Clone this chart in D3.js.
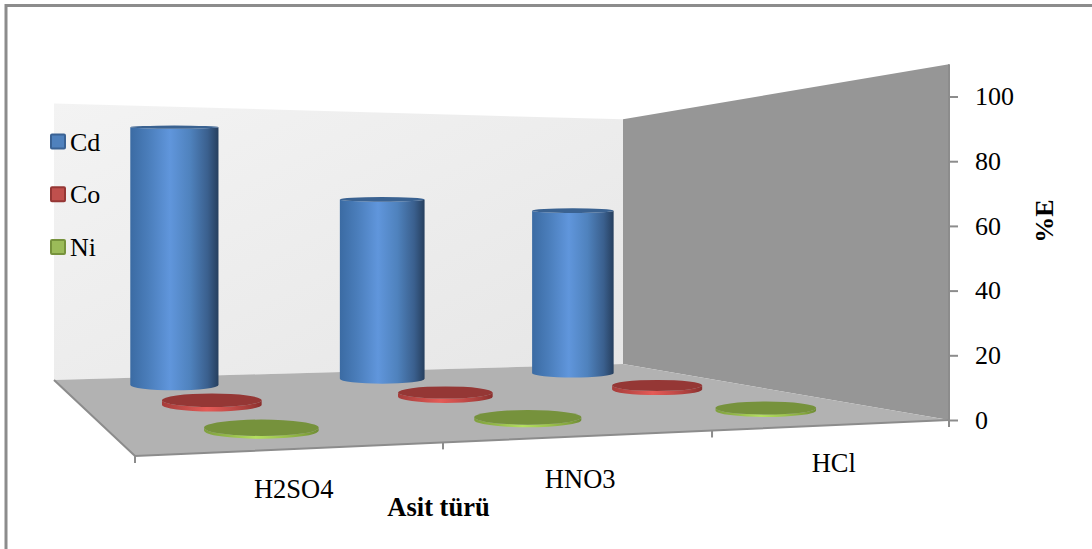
<!DOCTYPE html>
<html><head><meta charset="utf-8">
<script src="https://cdn.jsdelivr.net/npm/d3@7"></script>
<style>html,body{margin:0;padding:0;background:#fff}svg{display:block}text{font-family:"Liberation Serif",serif;fill:#000}</style>
</head><body><svg id="c" width="1092" height="549"></svg>
<script>
const categories = ["H2SO4","HNO3","HCl"];
const seriesNames = ["Cd","Co","Ni"];
const cd = [99, 72, 68];
const co = [1.5, 1.5, 1.5];
const ni = [0.8, 0.8, 0.8];
const yTicks = [0,20,40,60,80,100];
const seriesValues = [cd, co, ni];
const axisMax = 110;

const palette = [
 {stops:["#3b6ba3","#4a7dba","#6096dc","#4f82bd","#3a5f8d","#263f5e"],top:"#3a6291",sw:"#4f81bd",swb:"#3a6294"},
 {stops:["#a63c3a","#c04a47","#e55b57","#c54c49","#a33c39","#8a2f2d"],top:"#953735",sw:"#c0504d",swb:"#953735"},
 {stops:["#7f9f3e","#93b84a","#b4e05e","#9dc44f","#84a53f","#6f8c35"],top:"#76923c",sw:"#9bbb59",swb:"#76923c"}
];

const svg = d3.select("#c");
// floor homography: unit square -> quadrilateral
const P = {bl:[54,380],br:[623,364],fr:[949,420],fl:[135,456]};
const sx=P.bl[0]-P.br[0]+P.fr[0]-P.fl[0], sy=P.bl[1]-P.br[1]+P.fr[1]-P.fl[1];
const d1x=P.br[0]-P.fr[0], d2x=P.fl[0]-P.fr[0], d1y=P.br[1]-P.fr[1], d2y=P.fl[1]-P.fr[1];
const den=d1x*d2y-d2x*d1y;
const g=(sx*d2y-d2x*sy)/den, h=(d1x*sy-sx*d1y)/den;
const zScale=d3.scaleLinear([0,axisMax],[0,276.5]);
function project(u,v,val=0){
  const w=1+g*u+h*v;
  const x=((P.br[0]-P.bl[0]+g*P.br[0])*u+(P.fl[0]-P.bl[0]+h*P.fl[0])*v+P.bl[0])/w;
  const y=((P.br[1]-P.bl[1]+g*P.br[1])*u+(P.fl[1]-P.bl[1]+h*P.fl[1])*v+P.bl[1])/w;
  return [x,y-zScale(val)/w];
}
const uScale=d3.scaleBand(categories,[0,1]);
const vScale=d3.scalePoint(seriesNames,[1/6,5/6]);
const vYScale=d3.scalePoint(seriesNames,[0.16,0.815]);
const poly=pts=>"M"+pts.map(p=>p.join(",")).join("L")+"Z";

const defs=svg.append("defs");
palette.forEach((p,i)=>{
  const lg=defs.append("linearGradient").attr("id","g"+i);
  [0,.2,.45,.68,.88,1].forEach((o,k)=>lg.append("stop").attr("offset",o).attr("stop-color",p.stops[k]));
});
const wg=defs.append("linearGradient").attr("id","wall").attr("x1",0).attr("y1",0).attr("x2",1).attr("y2",1);
wg.append("stop").attr("offset",0).attr("stop-color","#f3f3f3");
wg.append("stop").attr("offset",1).attr("stop-color","#e6e6e6");

// frame
svg.append("rect").attr("x",6).attr("y",5.5).attr("width",1200).attr("height",700).attr("fill","none").attr("stroke","#8c8c8c").attr("stroke-width",3);

// walls and floor
svg.append("path").attr("d",poly([project(0,0,axisMax),project(1,0,axisMax),project(1,0),project(0,0)])).attr("fill","url(#wall)");
svg.append("path").attr("d",poly([project(1,0,axisMax),project(1,1,axisMax),project(1,1),project(1,0)])).attr("fill","#969696");
svg.append("path").attr("d",poly([project(0,0),project(1,0),project(1,1),project(0,1)])).attr("fill","#b2b2b2");
const edge="#8c8c8c";
svg.append("path").attr("d","M"+[project(0,0),project(0,1),project(1,1)].map(p=>p.join(",")).join("L")).attr("fill","none").attr("stroke",edge).attr("stroke-width",2);
svg.append("line").attr("x1",project(1,1,axisMax)[0]).attr("y1",project(1,1,axisMax)[1]).attr("x2",project(1,1)[0]).attr("y2",project(1,1)[1]).attr("stroke",edge).attr("stroke-width",2);

// category ticks
[0,1/3+0.003,2/3+0.003,1].forEach(u=>{
  const p=project(u,1);
  svg.append("line").attr("x1",p[0]).attr("x2",p[0]).attr("y1",p[1]).attr("y2",p[1]+7).attr("stroke",edge).attr("stroke-width",2);
});

// value axis
const yAxisScale=d3.scaleLinear([0,100],[project(1,1,0)[1],project(1,1,100)[1]]);
const ax=svg.append("g").attr("transform",`translate(${project(1,1)[0]},0)`)
  .call(d3.axisRight(yAxisScale).tickValues(yTicks).tickSize(9).tickPadding(17).tickFormat(d3.format("d")));
ax.select(".domain").remove();
ax.selectAll("line").attr("stroke",edge).attr("stroke-width",2);
ax.selectAll("text").attr("font-size",26).attr("font-family","Liberation Serif").attr("fill","#000");

// cylinders
const dvBySeries={Cd:0.1,Co:0.1,Ni:0.09};
seriesNames.forEach((s,j)=>{
  categories.forEach((c,i)=>{
    const val=seriesValues[j][i];
    const u=uScale(c)+uScale.bandwidth()/2, v=vScale(s), vy=vYScale(s);
    const du=0.066+0.010*u, dv=dvBySeries[s];
    const cx=project(u,v)[0];
    const yb=project(u,vy)[1], yt=project(u,vy,val)[1];
    const rx=(project(u+du,v)[0]-project(u-du,v)[0])/2;
    const ry=(project(u,vy+dv)[1]-project(u,vy-dv)[1])/2;
    const ryt=ry*(1-0.7*val/100);
    const path=`M${cx-rx},${yt}A${rx},${ryt} 0 0 0 ${cx+rx},${yt}L${cx+rx},${yb}A${rx},${ry} 0 0 1 ${cx-rx},${yb}Z`;
    svg.append("path").attr("d",path).attr("fill",`url(#g${j})`);
    svg.append("ellipse").attr("cx",cx).attr("cy",yt).attr("rx",rx).attr("ry",ryt).attr("fill",palette[j].top);
  });
});

// category labels
const labelDy=[49,52,47];
categories.forEach((c,i)=>{
  const p=project(uScale(c)+uScale.bandwidth()/2,1);
  svg.append("text").attr("x",p[0]+1).attr("y",p[1]+labelDy[i]).attr("text-anchor","middle").attr("font-size",26.5).text(c);
});

// legend
seriesNames.forEach((s,j)=>{
  const y=d3.scalePoint(seriesNames,[141.5,247])(s);
  svg.append("rect").attr("x",51).attr("y",y-7).attr("width",14).attr("height",14).attr("rx",1)
    .attr("fill",palette[j].sw).attr("stroke",palette[j].swb).attr("stroke-width",2);
  svg.append("text").attr("x",70).attr("y",y+9).attr("font-size",26).text(s);
});

// axis titles
svg.append("text").attr("x",438.5).attr("y",516).attr("text-anchor","middle").attr("font-size",26.5).attr("font-weight","bold").text("Asit türü");
svg.append("text").attr("transform","translate(1053,221) rotate(-90)").attr("text-anchor","middle").attr("font-size",26).attr("font-weight","bold").text("%E");
</script></body></html>
